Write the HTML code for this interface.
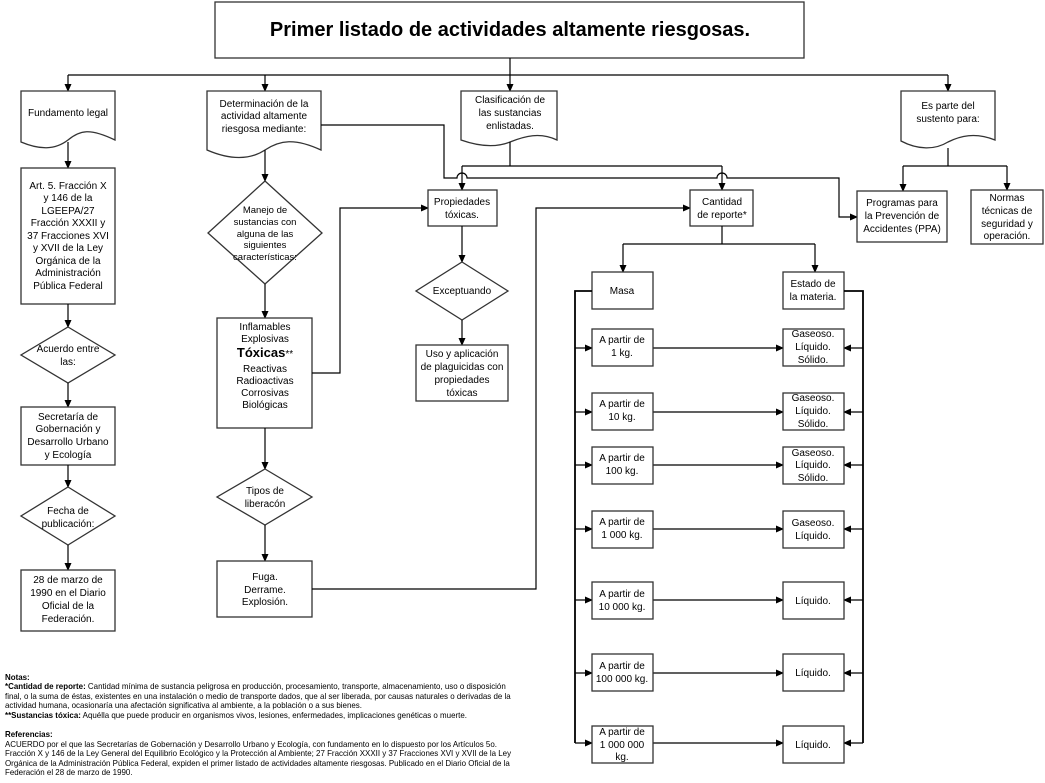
<!DOCTYPE html>
<html><head><meta charset="utf-8">
<style>
html,body{margin:0;padding:0;background:#fff;}
svg{display:block;}
text{font-family:"Liberation Sans",Arial,sans-serif;font-size:10px;fill:#000;}
.b{fill:#fff;stroke:#333;stroke-width:1.3;}
.l{fill:none;stroke:#000;stroke-width:1.2;}
.n{font-size:7.95px;}
</style></head><body>
<svg width="1045" height="783" viewBox="0 0 1045 783" xmlns="http://www.w3.org/2000/svg">
<defs>
<marker id="a" markerWidth="8" markerHeight="8" refX="7" refY="4" orient="auto" markerUnits="userSpaceOnUse">
<path d="M0,0.5 L8,4 L0,7.5 Z" fill="#000"/></marker>
</defs>

<rect class="b" x="215" y="2" width="589" height="56"/>
<text x="510" y="36" text-anchor="middle" style="font-size:20px;font-weight:bold">Primer listado de actividades altamente riesgosas.</text>

<path class="l" d="M510,58 V75 M68,75 H948"/>
<path class="l" d="M68,75 V91" marker-end="url(#a)"/>
<path class="l" d="M265,75 V91" marker-end="url(#a)"/>
<path class="l" d="M510,75 V91" marker-end="url(#a)"/>
<path class="l" d="M948,75 V91" marker-end="url(#a)"/>

<path class="b" d="M21,91 H115 V140 C90,128 80,130 68,140 C55,150 40,150 21,142 Z"/>
<text x="68" y="116" text-anchor="middle">Fundamento legal</text>

<path class="b" d="M207,91 H321 V150 C295,138 280,140 265,150 C250,160 230,160 207,150 Z"/>
<text text-anchor="middle"><tspan x="264" y="107">Determinación de la</tspan><tspan x="264" y="119">actividad altamente</tspan><tspan x="264" y="132">riesgosa mediante:</tspan></text>

<path class="b" d="M461,91 H557 V140 C540,132 525,136 510,142 C495,148 478,146 461,140 Z"/>
<text text-anchor="middle"><tspan x="510" y="103">Clasificación de</tspan><tspan x="510" y="116">las sustancias</tspan><tspan x="510" y="129">enlistadas.</tspan></text>

<path class="b" d="M901,91 H995 V140 C975,132 960,136 948,142 C935,150 918,150 901,141 Z"/>
<text text-anchor="middle"><tspan x="948" y="109">Es parte del</tspan><tspan x="948" y="122">sustento para:</tspan></text>

<path class="l" d="M68,142 V168" marker-end="url(#a)"/>
<rect class="b" x="21" y="168" width="94" height="136"/>
<text text-anchor="middle"><tspan x="68" y="189">Art. 5. Fracción X</tspan><tspan x="68" y="201">y 146 de la</tspan><tspan x="68" y="214">LGEEPA/27</tspan><tspan x="68" y="226">Fracción XXXII y</tspan><tspan x="68" y="239">37 Fracciones XVI</tspan><tspan x="68" y="251">y XVII de la Ley</tspan><tspan x="68" y="264">Orgánica de la</tspan><tspan x="68" y="276">Administración</tspan><tspan x="68" y="289">Pública Federal</tspan></text>
<path class="l" d="M68,304 V327" marker-end="url(#a)"/>
<polygon class="b" points="68,327 115,355 68,383 21,355"/>
<text text-anchor="middle"><tspan x="68" y="352">Acuerdo entre</tspan><tspan x="68" y="365">las:</tspan></text>
<path class="l" d="M68,383 V407" marker-end="url(#a)"/>
<rect class="b" x="21" y="407" width="94" height="58"/>
<text text-anchor="middle"><tspan x="68" y="420">Secretaría de</tspan><tspan x="68" y="432">Gobernación y</tspan><tspan x="68" y="445">Desarrollo Urbano</tspan><tspan x="68" y="458">y Ecología</tspan></text>
<path class="l" d="M68,465 V487" marker-end="url(#a)"/>
<polygon class="b" points="68,487 115,516 68,545 21,516"/>
<text text-anchor="middle"><tspan x="68" y="514">Fecha de</tspan><tspan x="68" y="527">publicación:</tspan></text>
<path class="l" d="M68,545 V570" marker-end="url(#a)"/>
<rect class="b" x="21" y="570" width="94" height="61"/>
<text text-anchor="middle"><tspan x="68" y="583">28 de marzo de</tspan><tspan x="68" y="596">1990 en el Diario</tspan><tspan x="68" y="609">Oficial de la</tspan><tspan x="68" y="622">Federación.</tspan></text>

<path class="l" d="M265,150 V181" marker-end="url(#a)"/>
<polygon class="b" points="265,181 322,233 265,284 208,233"/>
<text text-anchor="middle" style="font-size:9.5px"><tspan x="265" y="213">Manejo de</tspan><tspan x="265" y="225">sustancias con</tspan><tspan x="265" y="237">alguna de las</tspan><tspan x="265" y="248">siguientes</tspan><tspan x="265" y="260">características:</tspan></text>
<path class="l" d="M265,284 V318" marker-end="url(#a)"/>
<rect class="b" x="217" y="318" width="95" height="110"/>
<text text-anchor="middle"><tspan x="265" y="330">Inflamables</tspan><tspan x="265" y="342">Explosivas</tspan><tspan x="265" y="357" style="font-weight:bold;font-size:13px">Tóxicas<tspan style="font-weight:normal;font-size:10px">**</tspan></tspan><tspan x="265" y="372">Reactivas</tspan><tspan x="265" y="384">Radioactivas</tspan><tspan x="265" y="396">Corrosivas</tspan><tspan x="265" y="408">Biológicas</tspan></text>
<path class="l" d="M312,373 H340 V208 H428" marker-end="url(#a)"/>
<path class="l" d="M265,428 V469" marker-end="url(#a)"/>
<polygon class="b" points="265,469 312,497 265,525 217,497"/>
<text text-anchor="middle"><tspan x="265" y="494">Tipos de</tspan><tspan x="265" y="507">liberacón</tspan></text>
<path class="l" d="M265,525 V561" marker-end="url(#a)"/>
<rect class="b" x="217" y="561" width="95" height="56"/>
<text text-anchor="middle"><tspan x="265" y="580">Fuga.</tspan><tspan x="265" y="593">Derrame.</tspan><tspan x="265" y="605">Explosión.</tspan></text>
<path class="l" d="M312,589 H536 V208 H690" marker-end="url(#a)"/>

<path class="l" d="M321,125 H444 V178 H457 A5,5 0 0 1 467,178 H717 A5,5 0 0 1 727,178 H839 V217 H857" marker-end="url(#a)"/>

<path class="l" d="M510,142 V166 M462,166 H722"/>
<path class="l" d="M462,166 V190" marker-end="url(#a)"/>
<path class="l" d="M722,166 V190" marker-end="url(#a)"/>

<rect class="b" x="428" y="190" width="69" height="36"/>
<text text-anchor="middle"><tspan x="462" y="205">Propiedades</tspan><tspan x="462" y="218">tóxicas.</tspan></text>
<path class="l" d="M462,226 V262" marker-end="url(#a)"/>
<polygon class="b" points="462,262 508,291 462,320 416,291"/>
<text x="462" y="294" text-anchor="middle">Exceptuando</text>
<path class="l" d="M462,320 V345" marker-end="url(#a)"/>
<rect class="b" x="416" y="345" width="92" height="56"/>
<text text-anchor="middle"><tspan x="462" y="357">Uso y aplicación</tspan><tspan x="462" y="370">de plaguicidas con</tspan><tspan x="462" y="383">propiedades</tspan><tspan x="462" y="396">tóxicas</tspan></text>

<path class="l" d="M948,148 V166 M903,166 H1007"/>
<path class="l" d="M903,166 V191" marker-end="url(#a)"/>
<path class="l" d="M1007,166 V190" marker-end="url(#a)"/>
<rect class="b" x="857" y="191" width="90" height="51"/>
<text text-anchor="middle"><tspan x="902" y="206">Programas para</tspan><tspan x="902" y="219">la Prevención de</tspan><tspan x="902" y="232">Accidentes (PPA)</tspan></text>
<rect class="b" x="971" y="190" width="72" height="54"/>
<text text-anchor="middle"><tspan x="1007" y="201">Normas</tspan><tspan x="1007" y="214">técnicas de</tspan><tspan x="1007" y="227">seguridad y</tspan><tspan x="1007" y="239">operación.</tspan></text>

<rect class="b" x="690" y="190" width="63" height="36"/>
<text text-anchor="middle"><tspan x="722" y="205">Cantidad</tspan><tspan x="722" y="218">de reporte*</tspan></text>
<path class="l" d="M722,226 V244 M623,244 H815"/>
<path class="l" d="M623,244 V272" marker-end="url(#a)"/>
<path class="l" d="M815,244 V272" marker-end="url(#a)"/>
<rect class="b" x="592" y="272" width="61" height="37"/>
<text x="622" y="294" text-anchor="middle">Masa</text>
<rect class="b" x="783" y="272" width="61" height="37"/>
<text text-anchor="middle"><tspan x="813" y="287">Estado de</tspan><tspan x="813" y="300">la materia.</tspan></text>

<path d="M592,291 H575 V743" fill="none" stroke="#000" stroke-width="1.8"/>
<path d="M844,291 H863 V743" fill="none" stroke="#000" stroke-width="1.8"/>

<g>
<path class="l" d="M575,348 H592" marker-end="url(#a)"/><path class="l" d="M653,348 H783" marker-end="url(#a)"/><path class="l" d="M863,348 H844" marker-end="url(#a)"/>
<path class="l" d="M575,412 H592" marker-end="url(#a)"/><path class="l" d="M653,412 H783" marker-end="url(#a)"/><path class="l" d="M863,412 H844" marker-end="url(#a)"/>
<path class="l" d="M575,465 H592" marker-end="url(#a)"/><path class="l" d="M653,465 H783" marker-end="url(#a)"/><path class="l" d="M863,465 H844" marker-end="url(#a)"/>
<path class="l" d="M575,529 H592" marker-end="url(#a)"/><path class="l" d="M653,529 H783" marker-end="url(#a)"/><path class="l" d="M863,529 H844" marker-end="url(#a)"/>
<path class="l" d="M575,600 H592" marker-end="url(#a)"/><path class="l" d="M653,600 H783" marker-end="url(#a)"/><path class="l" d="M863,600 H844" marker-end="url(#a)"/>
<path class="l" d="M575,673 H592" marker-end="url(#a)"/><path class="l" d="M653,673 H783" marker-end="url(#a)"/><path class="l" d="M863,673 H844" marker-end="url(#a)"/>
<path class="l" d="M575,743 H592" marker-end="url(#a)"/><path class="l" d="M653,743 H783" marker-end="url(#a)"/><path class="l" d="M863,743 H844" marker-end="url(#a)"/>
</g>

<rect class="b" x="592" y="329" width="61" height="37"/>
<text text-anchor="middle"><tspan x="622" y="343">A partir de</tspan><tspan x="622" y="356">1 kg.</tspan></text>
<rect class="b" x="592" y="393" width="61" height="37"/>
<text text-anchor="middle"><tspan x="622" y="407">A partir de</tspan><tspan x="622" y="420">10 kg.</tspan></text>
<rect class="b" x="592" y="447" width="61" height="37"/>
<text text-anchor="middle"><tspan x="622" y="461">A partir de</tspan><tspan x="622" y="474">100 kg.</tspan></text>
<rect class="b" x="592" y="511" width="61" height="37"/>
<text text-anchor="middle"><tspan x="622" y="525">A partir de</tspan><tspan x="622" y="538">1 000 kg.</tspan></text>
<rect class="b" x="592" y="582" width="61" height="37"/>
<text text-anchor="middle"><tspan x="622" y="597">A partir de</tspan><tspan x="622" y="610">10 000 kg.</tspan></text>
<rect class="b" x="592" y="654" width="61" height="37"/>
<text text-anchor="middle"><tspan x="622" y="669">A partir de</tspan><tspan x="622" y="682">100 000 kg.</tspan></text>
<rect class="b" x="592" y="726" width="61" height="37"/>
<text text-anchor="middle"><tspan x="622" y="735">A partir de</tspan><tspan x="622" y="748">1 000 000</tspan><tspan x="622" y="760">kg.</tspan></text>

<rect class="b" x="783" y="329" width="61" height="37"/>
<text text-anchor="middle"><tspan x="813" y="337">Gaseoso.</tspan><tspan x="813" y="350">Líquido.</tspan><tspan x="813" y="363">Sólido.</tspan></text>
<rect class="b" x="783" y="393" width="61" height="37"/>
<text text-anchor="middle"><tspan x="813" y="401">Gaseoso.</tspan><tspan x="813" y="414">Líquido.</tspan><tspan x="813" y="427">Sólido.</tspan></text>
<rect class="b" x="783" y="447" width="61" height="37"/>
<text text-anchor="middle"><tspan x="813" y="456">Gaseoso.</tspan><tspan x="813" y="468">Líquido.</tspan><tspan x="813" y="481">Sólido.</tspan></text>
<rect class="b" x="783" y="511" width="61" height="37"/>
<text text-anchor="middle"><tspan x="813" y="526">Gaseoso.</tspan><tspan x="813" y="539">Líquido.</tspan></text>
<rect class="b" x="783" y="582" width="61" height="37"/>
<text x="813" y="604" text-anchor="middle">Líquido.</text>
<rect class="b" x="783" y="654" width="61" height="37"/>
<text x="813" y="676" text-anchor="middle">Líquido.</text>
<rect class="b" x="783" y="726" width="61" height="37"/>
<text x="813" y="748" text-anchor="middle">Líquido.</text>

<text class="n"><tspan x="5" y="680" font-weight="bold">Notas:</tspan>
<tspan x="5" y="689"><tspan font-weight="bold">*Cantidad de reporte:</tspan> Cantidad mínima de sustancia peligrosa en producción, procesamiento, transporte, almacenamiento, uso o disposición</tspan>
<tspan x="5" y="699">final, o la suma de éstas, existentes en una instalación o medio de transporte dados, que al ser liberada, por causas naturales o derivadas de la</tspan>
<tspan x="5" y="708">actividad humana, ocasionaría una afectación significativa al ambiente, a la población o a sus bienes.</tspan>
<tspan x="5" y="718"><tspan font-weight="bold">**Sustancias tóxica:</tspan> Aquélla que puede producir en organismos vivos, lesiones, enfermedades, implicaciones genéticas o muerte.</tspan>
<tspan x="5" y="737" font-weight="bold">Referencias:</tspan>
<tspan x="5" y="747">ACUERDO por el que las Secretarías de Gobernación y Desarrollo Urbano y Ecología, con fundamento en lo dispuesto por los Artículos 5o.</tspan>
<tspan x="5" y="756">Fracción X y 146 de la Ley General del Equilibrio Ecológico y la Protección al Ambiente; 27 Fracción XXXII y 37 Fracciones XVI y XVII de la Ley</tspan>
<tspan x="5" y="766">Orgánica de la Administración Pública Federal, expiden el primer listado de actividades altamente riesgosas. Publicado en el Diario Oficial de la</tspan>
<tspan x="5" y="775">Federación el 28 de marzo de 1990.</tspan></text>
</svg>
</body></html>
